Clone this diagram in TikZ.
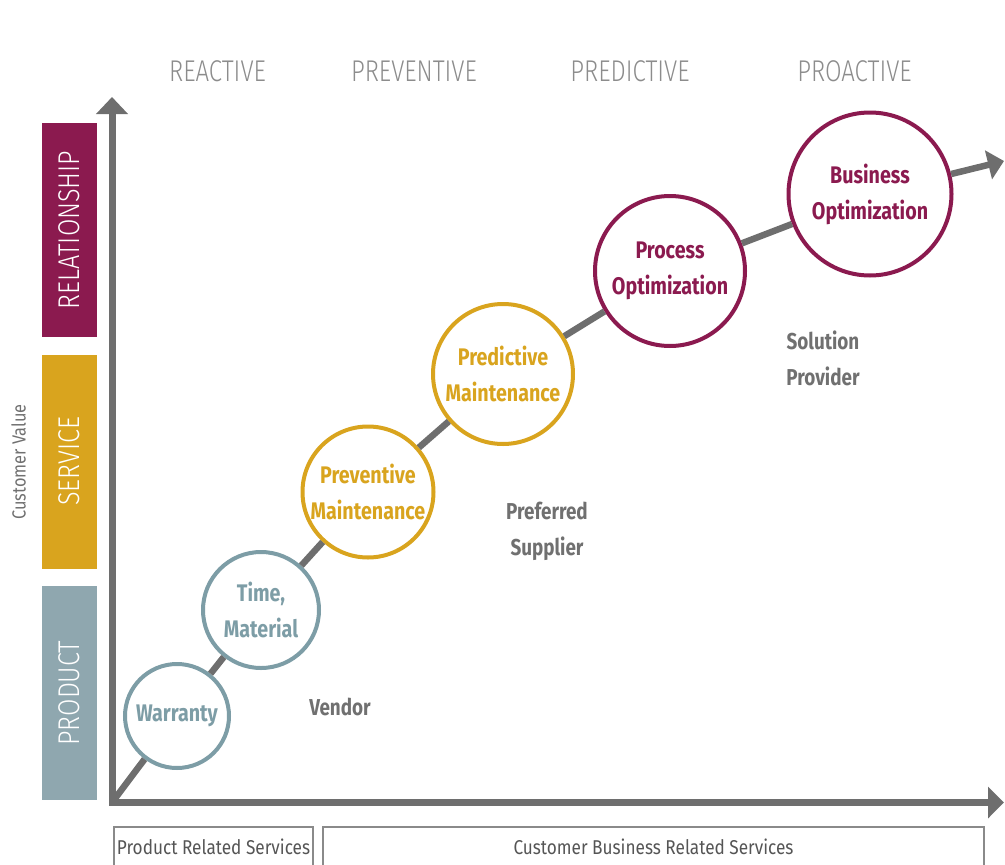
\documentclass[tikz,border=0pt]{standalone}
\usepackage{fontspec}
\setmainfont{Fira Sans}
\newfontfamily\lightfont{Fira Sans Light}
\usepackage{graphicx}
\usetikzlibrary{arrows.meta}
\definecolor{cMaroon}{HTML}{8B1A4F}
\definecolor{cGold}{HTML}{D9A41E}
\definecolor{cBar}{HTML}{8FA7AF}
\definecolor{cTeal}{HTML}{7D9DA6}
\definecolor{cAxis}{HTML}{6E6E6E}
\definecolor{cHead}{HTML}{8C8C8C}
\definecolor{cRole}{HTML}{707070}
\definecolor{cBox}{HTML}{8A8A8A}
\definecolor{cBoxText}{HTML}{555555}
\newcommand\sqz[2][0.82]{\scalebox{#1}[1]{#2}}
\begin{document}
\begin{tikzpicture}[x=1pt,y=-1pt,
 axis/.style={line width=7pt, draw=cAxis, line join=miter},
 link/.style={line width=6.5pt, draw=cAxis},
 stage/.style={circle, draw=#1, text=#1, line width=4pt, fill=white, inner sep=0pt, align=center, font=\fontsize{24}{36}\selectfont\bfseries},
 bar/.style={fill=#1, rotate=90, minimum width=214pt, minimum height=55pt, inner sep=0pt, text=white, font=\lightfont\fontsize{30}{30}\selectfont},
 head/.style={anchor=base, text=cHead, font=\lightfont\fontsize{30}{30}\selectfont},
 role/.style={text=cRole, align=center, font=\fontsize{23}{36}\selectfont\bfseries},
 svc/.style={draw=cBox, line width=1.2pt, text=cBoxText, inner sep=0pt, font=\fontsize{20}{20}\selectfont}
]
\useasboundingbox (0,0) rectangle (1005,865);
\clip (0,0) rectangle (1005,865);

% column headers
\node[head] (h1) at (217.5,81) {\sqz[0.8]{REACTIVE}};
\node[head] (h2) at (414,81) {\sqz[0.8]{PREVENTIVE}};
\node[head] (h3) at (630,81) {\sqz[0.8]{PREDICTIVE}};
\node[head] (h4) at (854.5,81) {\sqz[0.8]{PROACTIVE}};

% side bars
\node[bar=cMaroon] (rel) at (69.5,230) {\sqz[0.84]{RELATIONSHIP}};
\node[bar=cGold] (ser) at (69.5,461.5) {\sqz[0.84]{SERVICE}};
\node[bar=cBar] (pro) at (69.5,693) {\sqz[0.84]{PRODUCT}};
\node[rotate=90, text=cRole, font=\fontsize{19}{19}\selectfont, inner sep=0pt] (cv) at (18.5,462) {\sqz[0.86]{Customer Value}};

% axes
\coordinate (ytip) at (112,97);
\coordinate (org) at (112,802.5);
\coordinate (xtip) at (1004,802.5);
\draw[axis, {Triangle[width=31pt,length=17pt]}-{Triangle[width=31pt,length=16pt]}] (ytip) -- (org) -- (xtip);

% stages
\node[stage=cTeal, minimum size=104pt] (w) at (177,716) {\sqz{Warranty}};
\node[stage=cTeal, minimum size=116pt] (t) at (261,610) {\sqz{Time,}\\\sqz{Material}};
\node[stage=cGold, minimum size=131pt] (pm) at (368,492) {\sqz{Preventive}\\\sqz{Maintenance}};
\node[stage=cGold, minimum size=140pt] (dm) at (503,374) {\sqz{Predictive}\\\sqz{Maintenance}};
\node[stage=cMaroon, minimum size=150pt] (po) at (670,271) {\sqz{Process}\\\sqz{Optimization}};
\node[stage=cMaroon, minimum size=163pt] (bo) at (870,194) {\sqz{Business}\\\sqz{Optimization}};
\coordinate (dtip) at (1004,161);

% diagonal path
\draw[link] (org) -- (w);
\draw[link] (w) -- (t);
\draw[link] (t) -- (pm);
\draw[link] (pm) -- (dm);
\draw[link] (dm) -- (po);
\draw[link] (po) -- (bo);
\draw[link, -{Triangle[width=29pt,length=16pt]}] (bo) -- (dtip);

% roles
\node[role, anchor=base] (ven) at (340,715) {\sqz{Vendor}};
\node[role] (pref) at (547,531) {\sqz{Preferred}\\\sqz{Supplier}};
\node[role] (sol) at (823,358) {\sqz{Solution}\\\sqz{Provider}};

% service boxes
\node[svc, minimum width=199pt, minimum height=40pt] (prs) at (213.5,847) {\sqz[0.86]{Product Related Services}};
\node[svc, minimum width=661pt, minimum height=40pt] (cbrs) at (653.5,847) {\sqz[0.86]{Customer Business Related Services}};
\end{tikzpicture}
\end{document}
